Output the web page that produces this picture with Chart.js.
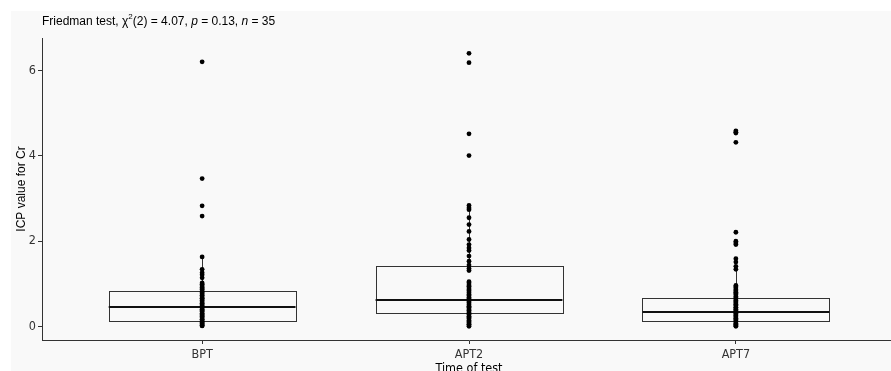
<!DOCTYPE html>
<html>
<head>
<meta charset="utf-8">
<script src="https://cdn.jsdelivr.net/npm/chart.js@4.4.1/dist/chart.umd.min.js"></script>
<style>
  html, body { margin: 0; background: #fff; overflow: hidden; width: 891px; height: 371px; }
  #wrap { position: absolute; left: 11px; top: 11px; width: 890px; height: 360px; background: #f9f9f9; }
</style>
</head>
<body>
<div id="wrap"><canvas id="chart"></canvas></div>
<script>
var categories = ['BPT', 'APT2', 'APT7'];
var yTicks = [0, 2, 4, 6];

var bptValues = [6.21, 3.47, 2.83, 2.59, 1.63, 1.34, 1.26, 1.21, 1.14, 1.02, 0.99, 0.95, 0.91, 0.88, 0.86, 0.82,
  0.79, 0.76, 0.73, 0.69, 0.66, 0.64, 0.61, 0.57, 0.54, 0.51, 0.48, 0.46, 0.43, 0.40, 0.37, 0.35, 0.31, 0.28,
  0.25, 0.23, 0.20, 0.17, 0.15, 0.12, 0.09, 0.07, 0.04, 0.02, 0.01];
var apt2Values = [6.41, 6.19, 4.52, 4.01, 2.84, 2.78, 2.74, 2.55, 2.39, 2.23, 2.04, 1.92, 1.84, 1.78, 1.65, 1.53,
  1.44, 1.36, 1.31, 1.05, 1.02, 0.97, 0.94, 0.90, 0.86, 0.83, 0.79, 0.75, 0.72, 0.68, 0.65, 0.62, 0.58, 0.55,
  0.51, 0.47, 0.45, 0.41, 0.38, 0.34, 0.31, 0.28, 0.24, 0.21, 0.18, 0.14, 0.11, 0.08, 0.05, 0.03, 0.00];
var apt7Values = [4.59, 4.56, 4.54, 4.32, 2.21, 2.00, 1.96, 1.92, 1.59, 1.51, 1.41, 1.34, 0.96, 0.93, 0.90, 0.86,
  0.83, 0.80, 0.77, 0.74, 0.70, 0.67, 0.64, 0.61, 0.58, 0.55, 0.52, 0.49, 0.45, 0.43, 0.40, 0.37, 0.34, 0.31,
  0.27, 0.25, 0.22, 0.19, 0.16, 0.13, 0.10, 0.07, 0.05, 0.02, 0.00];

// box statistics as drawn
var boxQ1 = [0.14, 0.31, 0.12];
var boxMedian = [0.45, 0.61, 0.34];
var boxQ3 = [0.84, 1.42, 0.67];
var whiskerLow = [0.00, 0.00, 0.00];
var whiskerHigh = [1.63, 2.84, 1.41];

var titleParts = [
  ['Friedman test, ', ''], ['\u03c7', ''], ['2', 'sup'], ['(2) = 4.07, ', ''],
  ['p', 'italic'], [' = 0.13, ', ''], ['n', 'italic'], [' = 35', '']
];

var sans = "'Liberation Sans', Arial, sans-serif";
var narrow = "'Liberation Sans Narrow', 'Arial Narrow', 'DejaVu Sans Condensed', 'Liberation Sans', sans-serif";
var boxWidth = 0.7;

var boxPlugin = {
  id: 'boxes',
  beforeDatasetsDraw(chart) {
    var ctx = chart.ctx, x = chart.scales.x, y = chart.scales.y;
    ctx.save();
    ctx.strokeStyle = '#333';
    categories.forEach(function (c, i) {
      var cx = Math.round(x.getPixelForValue(i)) + 0.5;
      var l = x.getPixelForValue(i - boxWidth / 2), r = x.getPixelForValue(i + boxWidth / 2);
      ctx.lineWidth = 1;
      ctx.beginPath();
      ctx.moveTo(cx, y.getPixelForValue(boxQ3[i]));
      ctx.lineTo(cx, y.getPixelForValue(whiskerHigh[i]));
      ctx.moveTo(cx, y.getPixelForValue(boxQ1[i]));
      ctx.lineTo(cx, y.getPixelForValue(whiskerLow[i]));
      ctx.stroke();
      var top = y.getPixelForValue(boxQ3[i]), bot = y.getPixelForValue(boxQ1[i]);
      ctx.strokeRect(Math.round(l) + 0.5, Math.round(top) + 0.5, Math.round(r - l), Math.round(bot - top));
      ctx.lineWidth = 2;
      ctx.strokeStyle = '#111';
      var my = Math.round(y.getPixelForValue(boxMedian[i]));
      ctx.beginPath();
      ctx.moveTo(l, my);
      ctx.lineTo(r, my);
      ctx.stroke();
      ctx.strokeStyle = '#333';
    });
    ctx.restore();
  }
};

var titlePlugin = {
  id: 'mixedTitle',
  afterDraw(chart) {
    var ctx = chart.ctx;
    var px = chart.chartArea.left, py = 11;
    ctx.save();
    ctx.fillStyle = '#000';
    ctx.textBaseline = 'middle';
    titleParts.forEach(function (p) {
      var dy = 0;
      if (p[1] === 'sup') { ctx.font = '8px ' + sans; dy = -5; }
      else if (p[1] === 'italic') { ctx.font = 'italic 12px ' + sans; }
      else { ctx.font = '12px ' + sans; }
      ctx.fillText(p[0], px, py + dy);
      px += ctx.measureText(p[0]).width;
    });
    ctx.restore();
  }
};

function pointSet(vals, i) {
  return {
    data: vals.map(function (v) { return {x: i, y: v}; }),
    backgroundColor: '#000',
    borderWidth: 0,
    pointRadius: 2.4,
    pointHoverRadius: 2.4
  };
}

new Chart(document.getElementById('chart'), {
  type: 'scatter',
  data: {datasets: [pointSet(bptValues, 0), pointSet(apt2Values, 1), pointSet(apt7Values, 2)]},
  plugins: [boxPlugin, titlePlugin],
  options: {
    responsive: true,
    maintainAspectRatio: false,
    animation: false,
    layout: {padding: {top: 27, right: 5, left: 0, bottom: 0}},
    plugins: {legend: {display: false}, tooltip: {enabled: false}},
    scales: {
      x: {
        type: 'linear', min: -0.6, max: 2.6,
        afterBuildTicks: function (s) { s.ticks = categories.map(function (c, i) { return {value: i}; }); },
        afterFit: function (s) { s.height = 31; },
        ticks: {
          callback: function (v) { return categories[v]; },
          color: '#333', padding: 3, maxRotation: 0,
          font: {family: narrow, size: 12.5}
        },
        grid: {display: true, drawOnChartArea: false, drawTicks: true, tickLength: 4, color: '#333'},
        border: {display: true, color: '#333', width: 1},
        title: {display: true, text: 'Time of test', color: '#000',
          font: {family: narrow, size: 12.5}, padding: {top: 0, bottom: -5}}
      },
      y: {
        min: -0.32, max: 6.77,
        afterBuildTicks: function (s) { s.ticks = yTicks.map(function (v) { return {value: v}; }); },
        afterFit: function (s) { s.width = 31; },
        ticks: {color: '#333', padding: 2, font: {family: narrow, size: 12.5}},
        grid: {display: true, drawOnChartArea: false, drawTicks: true, tickLength: 4, color: '#333'},
        border: {display: true, color: '#333', width: 1},
        title: {display: true, text: 'ICP value for Cr', color: '#000',
          font: {family: sans, size: 12}, padding: {top: 3, bottom: 0}}
      }
    }
  }
});
</script>
</body>
</html>
